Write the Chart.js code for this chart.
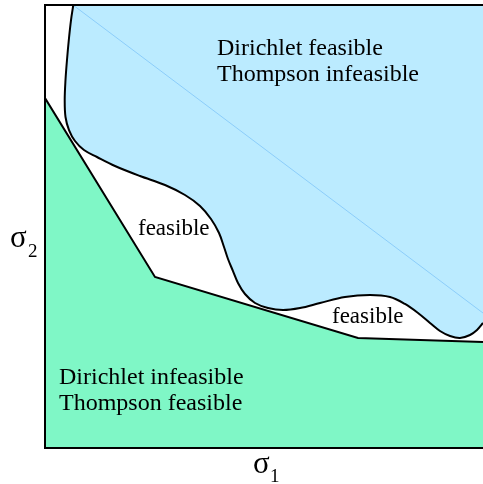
<!DOCTYPE html>
<html>
<head>
<meta charset="utf-8">
<script src="https://cdn.jsdelivr.net/npm/chart.js@4/dist/chart.umd.min.js"></script>
<style>
  html, body { margin: 0; padding: 0; background: #ffffff; }
  #wrap { width: 483px; height: 484px; position: relative; }
</style>
</head>
<body>
<div id="wrap"><canvas id="c"></canvas></div>
<script>
// Boundary where Dirichlet becomes infeasible (sigma1, sigma2)
const dirichletBoundaryX = [0.0646, 0.0594, 0.0548, 0.0502, 0.0468, 0.0450, 0.0468, 0.0548, 0.0685, 0.0890, 0.1187, 0.1598, 0.2169, 0.2740, 0.3196, 0.3539, 0.3790, 0.3973, 0.4087, 0.4178, 0.4292, 0.4406, 0.4566, 0.4795, 0.5091, 0.5434, 0.5822, 0.6279, 0.6849, 0.7420, 0.7877, 0.8219, 0.8516, 0.8790, 0.9018, 0.9247, 0.9475, 0.9703, 0.9863, 1.0];
const dirichletBoundaryY = [1.0, 0.9661, 0.9255, 0.8758, 0.8307, 0.7856, 0.7472, 0.7178, 0.6930, 0.6727, 0.6569, 0.6366, 0.6140, 0.5937, 0.5711, 0.5463, 0.5169, 0.4853, 0.4537, 0.4266, 0.3995, 0.3725, 0.3476, 0.3273, 0.3160, 0.3115, 0.3160, 0.3273, 0.3409, 0.3454, 0.3409, 0.3251, 0.3047, 0.2822, 0.2641, 0.2528, 0.2483, 0.2551, 0.2664, 0.2822];
// Boundary where Thompson becomes infeasible
const thompsonBoundaryX = [0.0, 0.2511, 0.7146, 1.0];
const thompsonBoundaryY = [0.7901, 0.3860, 0.2483, 0.2393];
// Thin reference diagonal
const diagonalX = [0.0639, 1.0];
const diagonalY = [1.0, 0.3047];
// Axis range
const axisMin = 0, axisMax = 1;
// Region labels
const labelTopRight = ["Dirichlet feasible", "Thompson infeasible"];
const labelBottomLeft = ["Dirichlet infeasible", "Thompson feasible"];
const labelMiddle = "feasible";
const axisSymbol = "σ";
const xSub = "1", ySub = "2";

const toPts = (xs, ys) => xs.map((x, i) => ({x: x, y: ys[i]}));
const curvePts = toPts(dirichletBoundaryX, dirichletBoundaryY);
const bluePoly = curvePts.concat([{x: axisMax, y: 0.6}, {x: axisMax, y: axisMax}]);

const BLUE = 'rgb(187,235,255)';
const GREEN = 'rgb(127,247,198)';

const decor = {
  id: 'decor',
  afterDatasetsDraw(chart) {
    const ctx = chart.ctx;
    const a = chart.chartArea;
    ctx.save();
    // frame
    ctx.strokeStyle = '#000';
    ctx.lineWidth = 2;
    ctx.beginPath();
    ctx.moveTo(a.right + 5, a.top);
    ctx.lineTo(a.left, a.top);
    ctx.lineTo(a.left, a.bottom);
    ctx.lineTo(a.right + 5, a.bottom);
    ctx.stroke();
    // labels
    ctx.fillStyle = '#000';
    ctx.textBaseline = 'alphabetic';
    ctx.textAlign = 'left';
    ctx.font = '24px "Liberation Serif", "Times New Roman", serif';
    ctx.fillText(labelTopRight[0], 217, 55);
    ctx.fillText(labelTopRight[1], 217, 81);
    ctx.fillText(labelBottomLeft[0], 59, 384);
    ctx.fillText(labelBottomLeft[1], 59, 410);
    ctx.font = '23px "Liberation Serif", "Times New Roman", serif';
    ctx.fillText(labelMiddle, 138, 235);
    ctx.fillText(labelMiddle, 332, 323);
    // axis titles with subscripts
    ctx.font = '31px "Liberation Serif", "Times New Roman", serif';
    ctx.fillText(axisSymbol, 253, 473);
    ctx.fillText(axisSymbol, 10, 247);
    ctx.font = '19px "Liberation Serif", "Times New Roman", serif';
    ctx.fillText(xSub, 270, 482);
    ctx.fillText(ySub, 28, 257);
    ctx.restore();
  }
};

new Chart(document.getElementById('c'), {
  type: 'line',
  data: {
    datasets: [
      { data: curvePts, borderColor: '#000', borderWidth: 2, tension: 0.35, fill: false, pointRadius: 0 },
      { data: toPts(thompsonBoundaryX, thompsonBoundaryY), borderColor: '#000', borderWidth: 2, tension: 0, fill: 'start', backgroundColor: GREEN, pointRadius: 0 },
      { data: toPts(diagonalX, diagonalY), borderColor: 'rgb(140,205,250)', borderWidth: 1, tension: 0, fill: false, pointRadius: 0 },
      { data: bluePoly, borderWidth: 0, borderColor: 'rgba(0,0,0,0)', tension: 0.35, fill: 'shape', backgroundColor: BLUE, pointRadius: 0 }
    ]
  },
  options: {
    responsive: true,
    maintainAspectRatio: false,
    animation: false,
    layout: { padding: { left: 45, top: 5, right: 0, bottom: 36 } },
    plugins: { legend: { display: false }, tooltip: { enabled: false } },
    scales: {
      x: { type: 'linear', min: axisMin, max: axisMax, display: false },
      y: { type: 'linear', min: axisMin, max: axisMax, display: false }
    }
  },
  plugins: [decor]
});
</script>
</body>
</html>
